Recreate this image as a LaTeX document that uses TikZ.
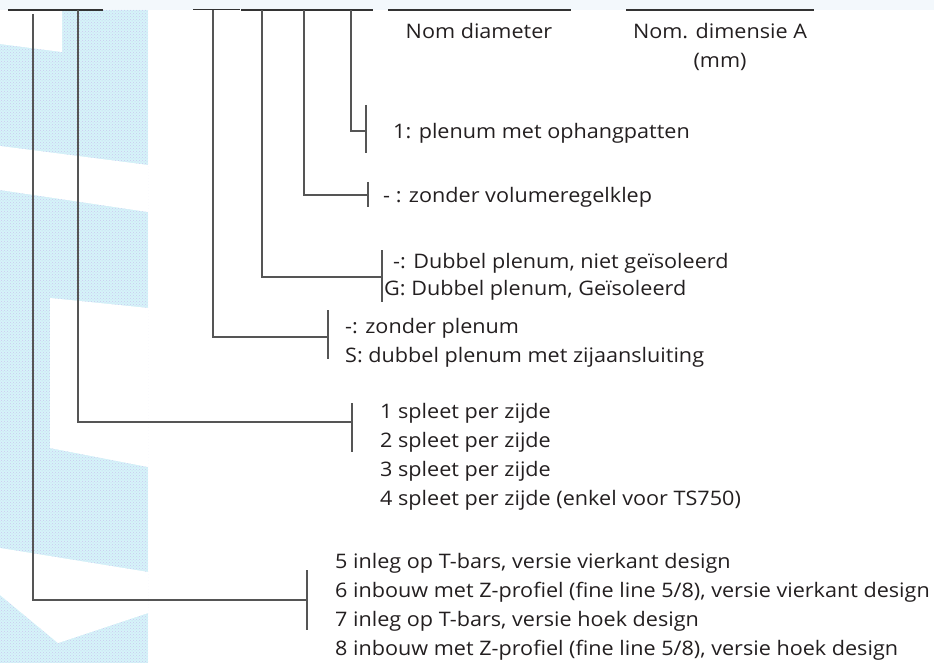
\documentclass[tikz,border=0pt]{standalone}
\usepackage{fontspec}
\setmainfont{Open Sans}[FakeStretch=1.08]
\usetikzlibrary{patterns}
\definecolor{patbg}{HTML}{D5F4F9}
\definecolor{patdot}{HTML}{CCC8F0}
\definecolor{ln}{HTML}{555555}
\definecolor{topln}{HTML}{333333}
\definecolor{topband}{HTML}{F3F8FC}
\definecolor{txt}{HTML}{231F20}
\begin{document}
\begin{tikzpicture}[x=1pt,y=-1pt,
  conn/.style={draw=ln, line width=1.3pt},
  tick/.style={draw=ln, line width=1.1pt},
  topline/.style={draw=topln, line width=1.2pt},
  lbl/.style={anchor=west, inner sep=0pt, font=\fontsize{20}{24}\selectfont, text height=15pt, text depth=4.3pt, text=txt},
  hdr/.style={anchor=center, inner sep=0pt, font=\fontsize{20}{24}\selectfont, text height=15pt, text depth=4.3pt, text=txt}]
\useasboundingbox (0,0) rectangle (934,663);
% background texture
\fill[topband] (0,0) rectangle (934,10);
\fill[patbg] (0,10) rectangle (148,663);
\fill[pattern=crosshatch dots, pattern color=patdot] (0,10) rectangle (148,663);
\fill[white] (0,10) -- (62,10) -- (62,52) -- (0,44) -- cycle;
\fill[white] (0,146) -- (148,165) -- (148,212) -- (0,190) -- cycle;
\fill[white] (50,298) -- (148,308) -- (148,467) -- (50,448) -- cycle;
\fill[white] (0,548) -- (148,572) -- (148,613) -- (58,643) -- (0,595) -- cycle;

% top lines
\coordinate (t1a) at (8,10);   \coordinate (t1b) at (103,10);
\coordinate (t2a) at (193,9.5); \coordinate (t2b) at (240,9.5);
\coordinate (t3a) at (241,10); \coordinate (t3b) at (373,10);
\coordinate (t4a) at (388,10); \coordinate (t4b) at (571,10);
\coordinate (t5a) at (626,10); \coordinate (t5b) at (814,10);
\draw[topline] (t1a) -- (t1b);
\draw[topline] (t2a) -- (t2b);
\draw[topline] (t3a) -- (t3b);
\draw[topline] (t4a) -- (t4b);
\draw[topline] (t5a) -- (t5b);

% header labels
\node[hdr] (hdia) at (479,33) {Nom diameter};
\node[hdr] (hdim) at (720,33) {Nom. dimensie A};
\node[hdr] (hmm) at (720,62) {(mm)};

% vertical start points
\coordinate (sA) at (33,14);
\coordinate (sB) at (78,10);
\coordinate (sC) at (213,10);
\coordinate (sD) at (262,10);
\coordinate (sE) at (304,10);
\coordinate (sF) at (351,10);

% ticks
\coordinate (kA) at (307,600); \coordinate (kAt) at (307,570); \coordinate (kAb) at (307,630);
\coordinate (kB) at (352,422); \coordinate (kBt) at (352,403); \coordinate (kBb) at (352,452);
\coordinate (kC) at (328,337); \coordinate (kCt) at (328,310); \coordinate (kCb) at (328,359);
\coordinate (kD) at (382,277); \coordinate (kDt) at (382,250); \coordinate (kDb) at (382,302);
\coordinate (kE) at (368,195); \coordinate (kEt) at (368,182); \coordinate (kEb) at (368,207);
\coordinate (kF) at (366,131); \coordinate (kFt) at (366,105); \coordinate (kFb) at (366,153);

\draw[conn] (sA) |- (kA);
\draw[conn] (sB) |- (kB);
\draw[conn] (sC) |- (kC);
\draw[conn] (sD) |- (kD);
\draw[conn] (sE) |- (kE);
\draw[conn] (sF) |- (kF);
\draw[tick] (kAt) -- (kAb);
\draw[tick] (kBt) -- (kBb);
\draw[tick] (kCt) -- (kCb);
\draw[tick] (kDt) -- (kDb);
\draw[tick] (kEt) -- (kEb);
\draw[tick] (kFt) -- (kFb);

% labels
\node[lbl] (lF) at (393,133) {1: plenum met ophangpatten};
\node[lbl] (lE) at (383,197) {- : zonder volumeregelklep};
\node[lbl] (lD1) at (393,263) {-: Dubbel plenum, niet geïsoleerd};
\node[lbl] (lD2) at (384,290) {G: Dubbel plenum, Geïsoleerd};
\node[lbl] (lC1) at (345,328) {-: zonder plenum};
\node[lbl] (lC2) at (345,357) {S: dubbel plenum met zijaansluiting};
\node[lbl] (lB1) at (380,413) {1 spleet per zijde};
\node[lbl] (lB2) at (380,442) {2 spleet per zijde};
\node[lbl] (lB3) at (380,471) {3 spleet per zijde};
\node[lbl] (lB4) at (380,500) {4 spleet per zijde (enkel voor TS750)};
\node[lbl] (lA1) at (335,563) {5 inleg op T-bars, versie vierkant design};
\node[lbl] (lA2) at (335,592) {6 inbouw met Z-profiel (fine line 5/8), versie vierkant design};
\node[lbl] (lA3) at (335,621) {7 inleg op T-bars, versie hoek design};
\node[lbl] (lA4) at (335,650) {8 inbouw met Z-profiel (fine line 5/8), versie hoek design};
\end{tikzpicture}
\end{document}
